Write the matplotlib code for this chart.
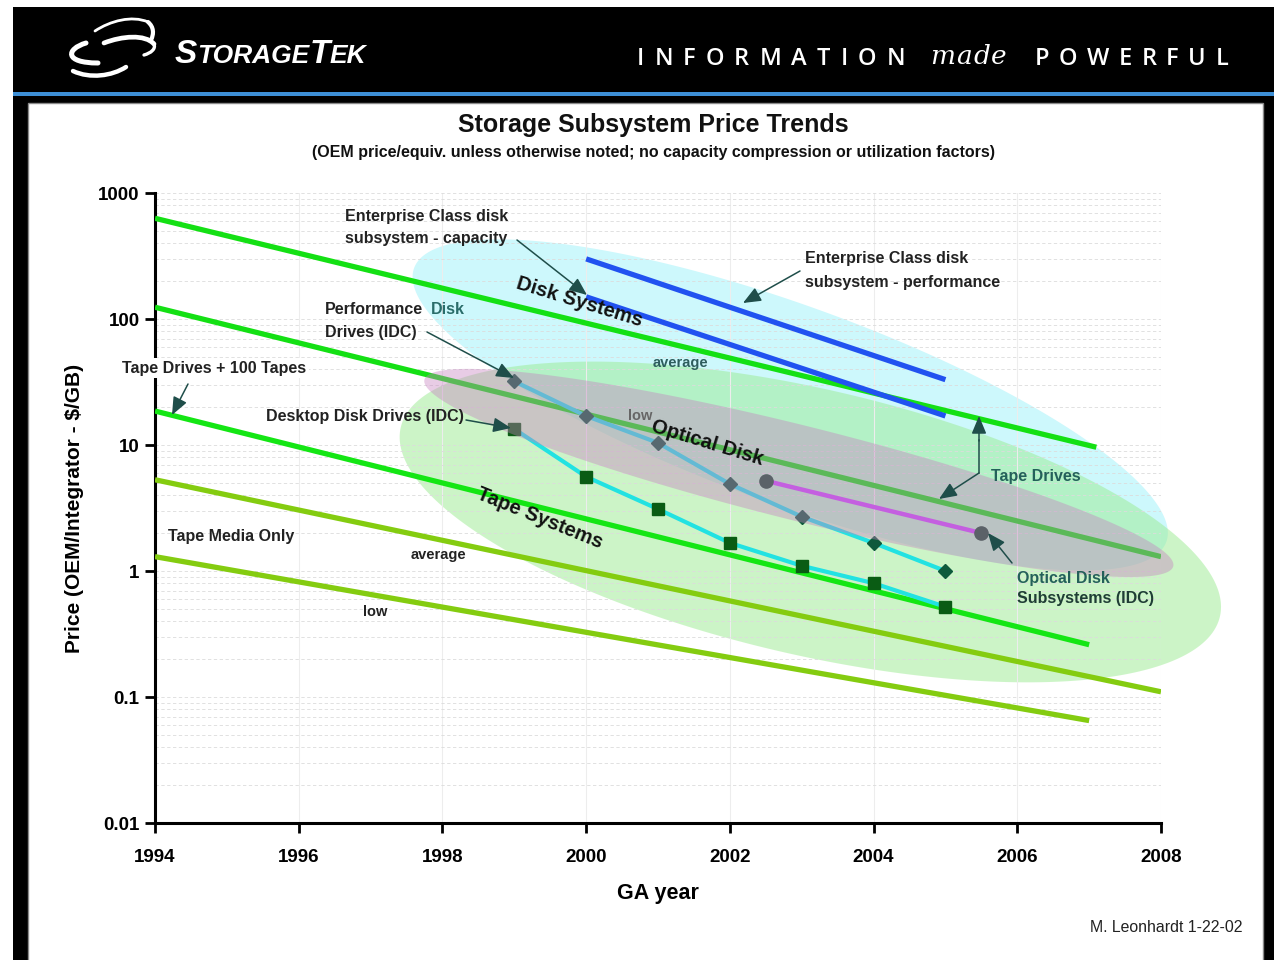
import numpy as np
import matplotlib
matplotlib.use("Agg")
import matplotlib.pyplot as plt
from matplotlib.patches import Rectangle, Polygon, PathPatch, FancyArrowPatch
from matplotlib.path import Path
from matplotlib.transforms import Affine2D
from matplotlib.ticker import LogLocator, NullFormatter

plt.rcParams["font.family"] = ["Liberation Sans", "DejaVu Sans"]

# ---------------- data ($/GB vs GA year) ----------------
year_ticks = [1994, 1996, 1998, 2000, 2002, 2004, 2006, 2008]
price_ticks = [0.01, 0.1, 1, 10, 100, 1000]
price_tick_labels = ["0.01", "0.1", "1", "10", "100", "1000"]

# disk trend lines
disk_avg_years = [1994, 2007.1]
disk_avg_price = [630, 9.6]
disk_low_years = [1994, 2008]
disk_low_price = [124, 1.3]

# tape trend lines
tape_avg_years = [1994, 2007]
tape_avg_price = [18.6, 0.26]
tape_low_years = [1994, 2008]
tape_low_price = [5.3, 0.11]
media_years = [1994, 2007]
media_price = [1.3, 0.065]

# enterprise class disk subsystems
ent_years = [2000, 2005]
ent_perf_price = [300, 33]
ent_cap_price = [150, 17]

# IDC drive prices
idc_years = [1999, 2000, 2001, 2002, 2003, 2004, 2005]
perf_disk_price = [32, 17, 10.4, 4.9, 2.7, 1.67, 1.0]
desktop_disk_price = [13.4, 5.6, 3.1, 1.67, 1.1, 0.80, 0.52]

# optical disk subsystems (IDC)
optical_years = [2002.5, 2005.5]
optical_price = [5.2, 2.0]

# ---------------- figure & slide frame ----------------
W, H = 1274, 960
fig = plt.figure(figsize=(W / 100, H / 100), dpi=100)
fig.patch.set_facecolor("white")
px = Affine2D().scale(1 / W, -1 / H).translate(0, 1) + fig.transFigure

fig.add_artist(Rectangle((13, 7), W - 13, H - 7, transform=px, fc="black", ec="none", zorder=-10))
fig.add_artist(Rectangle((13, 92), W - 13, 4, transform=px, fc="#3d8fd6", ec="none", zorder=-9))
fig.add_artist(Rectangle((28, 103), 1235, H - 100, transform=px, fc="white", ec="#8a8a8a",
                         lw=1.0, zorder=-8))

# logo swirl
swirls = [
    ([(95, 31), (110, 21), (132, 15), (148, 22)], 2.0),
    ([(148, 22), (154, 27), (154, 34), (151, 40)], 3.0),
    ([(104, 43), (122, 36), (145, 34), (154, 44)], 3.4),
    ([(154, 44), (156, 49), (151, 53), (144, 55)], 2.4),
    ([(86, 43), (66, 49), (64, 63), (98, 63)], 3.6),
    ([(73, 71), (90, 79), (112, 76), (126, 67)], 3.2),
]
for pts, lw in swirls:
    codes = [Path.MOVETO, Path.CURVE4, Path.CURVE4, Path.CURVE4]
    fig.add_artist(PathPatch(Path(pts, codes), transform=px, fc="none", ec="white",
                             lw=lw, capstyle="round", zorder=-5))

renderer = fig.canvas.get_renderer()


def run_text(parts, x0, base, **kw):
    """Place text pieces side by side starting at pixel x0 on a common baseline."""
    x = x0
    for s, size in parts:
        t = fig.text(x, base, s, transform=px, fontsize=size, va="baseline", ha="left", **kw)
        x += t.get_window_extent(renderer).width


def spaced(s, x0, x1, base, **kw):
    """Spread characters evenly between pixel x0 and x1."""
    arts = [fig.text(0, base, ch, transform=px, va="baseline", ha="left", **kw) for ch in s]
    ws = [a.get_window_extent(renderer).width for a in arts]
    gap = (x1 - x0 - sum(ws)) / (len(s) - 1)
    x = x0
    for a, w in zip(arts, ws):
        a.set_position((x, base))
        x += w + gap


run_text([("S", 24), ("TORAGE", 19), ("T", 24), ("EK", 19)], 175, 63,
         color="white", fontweight="bold", fontstyle="italic")
spaced("INFORMATION", 637, 905, 65, color="white", fontsize=17, family="Open Sans",
       fontweight="semibold")
spaced("made", 930, 1007, 64, color="white", fontsize=19, family="DejaVu Serif",
       fontstyle="italic")
spaced("POWERFUL", 1035, 1228, 65, color="white", fontsize=17, family="Open Sans",
       fontweight="semibold")

# titles
fig.text(653, 125, "Storage Subsystem Price Trends", transform=px, ha="center", va="center",
         fontsize=18, fontweight="bold", color="#111111")
fig.text(653, 152, "(OEM price/equiv. unless otherwise noted; no capacity compression or "
         "utilization factors)", transform=px, ha="center", va="center",
         fontsize=11.5, fontweight="bold", color="#111111")
fig.text(1242, 927, "M. Leonhardt 1-22-02", transform=px, ha="right", va="center",
         fontsize=11.4, color="#222222")

# ---------------- axes ----------------
ax = fig.add_axes([155 / W, 1 - 823 / H, 1006 / W, 630 / H])
ax.set_facecolor("none")
ax.set_yscale("log")
ax.set_xlim(1994, 2008)
ax.set_ylim(0.01, 1000)
ax.set_axisbelow("line")

ax.set_xticks(year_ticks)
ax.set_xticklabels([str(y) for y in year_ticks])
ax.set_yticks(price_ticks)
ax.set_yticklabels(price_tick_labels)
ax.yaxis.set_minor_locator(LogLocator(base=10, subs=np.arange(2, 10)))
ax.yaxis.set_minor_formatter(NullFormatter())
ax.tick_params(which="major", direction="out", length=7, width=2, labelsize=13.5, color="black")
ax.tick_params(axis="x", pad=12)
ax.tick_params(axis="y", pad=4)
ax.tick_params(which="minor", length=0)
for lab in ax.get_xticklabels() + ax.get_yticklabels():
    lab.set_fontweight("bold")

for side in ("top", "right"):
    ax.spines[side].set_visible(False)
for side in ("left", "bottom"):
    ax.spines[side].set_linewidth(2.2)
    ax.spines[side].set_color("black")

ax.grid(True, which="both", axis="y", color="#dcdcdc", lw=0.6, ls=(0, (4, 3)))
ax.grid(True, which="major", axis="x", color="#ededed", lw=0.8, ls="-")

ax.set_ylabel("Price (OEM/Integrator - $/GB)", fontsize=15, fontweight="bold")
ax.yaxis.set_label_coords(-0.071, 0.5)
ax.set_xlabel("GA year", fontsize=15.5, fontweight="bold")
ax.xaxis.set_label_coords(0.5, -0.096)

# years on screen that match one decade vertically (keeps region ellipses undistorted)
yrs_per_decade = (630 / 5) / (1006 / 14)


def region(cx, cy, a, b, ang, color, alpha, z):
    t = np.linspace(0, 2 * np.pi, 500)
    th = np.deg2rad(ang)
    xs = cx + a * np.cos(t) * np.cos(th) - b * np.sin(t) * np.sin(th)
    ys = np.log10(cy) * yrs_per_decade + a * np.cos(t) * np.sin(th) + b * np.sin(t) * np.cos(th)
    ax.add_patch(Polygon(np.c_[xs, 10 ** (ys / yrs_per_decade)], closed=True, fc=color,
                         ec="none", alpha=alpha, zorder=z, clip_on=False))


# technology regions
region(2002.84, 20.8, 5.57, 1.38, -20, "#cdf8fc", 1.0, 1.0)    # disk systems
region(2003.12, 2.45, 5.85, 1.85, -13, "#9beb91", 0.5, 1.1)    # tape systems
region(2002.96, 6.0, 5.37, 0.66, -14, "#c680c0", 0.4, 4.0)     # optical disk

# trend lines
ax.plot(disk_avg_years, disk_avg_price, color="#14e014", lw=3.8, solid_capstyle="butt", zorder=3)
ax.plot(disk_low_years, disk_low_price, color="#14e014", lw=3.8, solid_capstyle="butt", zorder=3)
ax.plot(tape_avg_years, tape_avg_price, color="#14e614", lw=3.8, solid_capstyle="butt", zorder=3)
ax.plot(tape_low_years, tape_low_price, color="#84cc10", lw=3.8, solid_capstyle="butt", zorder=3)
ax.plot(media_years, media_price, color="#84cc10", lw=3.8, solid_capstyle="butt", zorder=3)

ax.plot(ent_years, ent_perf_price, color="#2152f0", lw=3.8, solid_capstyle="butt", zorder=3)
ax.plot(ent_years, ent_cap_price, color="#2152f0", lw=3.8, solid_capstyle="butt", zorder=3)

ax.plot(idc_years, perf_disk_price, color="#22e2e2", lw=3, marker="D", ms=7,
        mfc="#0e5a3c", mec="#0e5a3c", zorder=3.2)
ax.plot(idc_years, desktop_disk_price, color="#22e2e2", lw=3, marker="s", ms=9,
        mfc="#0a5c14", mec="#0a5c14", zorder=3.2)

ax.plot(optical_years, optical_price, color="#c45fe0", lw=3.2, solid_capstyle="butt", zorder=5)
ax.plot(optical_years, optical_price, ls="none", marker="o", ms=9.5, mfc="#5b6268",
        mec="#5b6268", zorder=6)

# ---------------- labels & call-outs ----------------
DARK = "#222222"
TEAL = "#24605a"
FS = 11.5


def label(x, y, s, color=DARK, size=FS, **kw):
    fig.text(x, y, s, transform=px, ha=kw.pop("ha", "left"), va="center", fontsize=size,
             fontweight="bold", color=color, **kw)


def arrow(x0, y0, x1, y1):
    fig.add_artist(FancyArrowPatch((x0, y0), (x1, y1), transform=px,
                                   arrowstyle="-|>,head_length=0.6,head_width=0.25",
                                   mutation_scale=18, color="#1f4e4a", lw=1.1,
                                   shrinkA=0, shrinkB=0, zorder=8))


label(345, 216, "Enterprise Class disk")
label(345, 239, "subsystem - capacity")
arrow(517, 240, 587, 295)

label(805, 259, "Enterprise Class disk")
label(805, 282, "subsystem - performance")
arrow(800, 271, 743, 303)

label(325, 310, "Performance")
label(431, 310, "Disk", color="#2a6d6a")
label(325, 332, "Drives (IDC)")
arrow(427, 332, 514, 378)

label(122, 368, "Tape Drives + 100 Tapes",
      bbox=dict(fc="white", ec="none", pad=2))
arrow(188, 384, 172, 415)

label(266, 417, "Desktop Disk Drives (IDC)")
arrow(466, 420, 511, 428)

label(168, 536, "Tape Media Only")
label(653, 363, "average", color="#2e5e5e", size=10.5)
label(628, 416, "low", color="#666666", size=10.5)
label(411, 555, "average", size=10.5)
label(363, 612, "low", size=10.5)

label(991, 477, "Tape Drives", color=TEAL)
fig.add_artist(plt.Line2D([979, 979], [473, 440], transform=px, color="#1f4e4a", lw=1.1, zorder=8))
arrow(979, 441, 979, 416)
arrow(979, 473, 939, 499)

label(1017, 578, "Optical Disk", color=TEAL)
label(1017, 599, "Subsystems (IDC)", color="#1f3d35")
arrow(1012, 563, 988, 533)

for s, x, y, rot in [("Disk Systems", 579, 302, -17), ("Optical Disk", 707, 443, -17),
                     ("Tape Systems", 540, 518, -22)]:
    fig.text(x, y, s, transform=px, ha="center", va="center", rotation=rot,
             rotation_mode="anchor", fontsize=14.5, fontweight="bold", color="#111111", zorder=9)

fig.savefig("out.png", dpi=100)
